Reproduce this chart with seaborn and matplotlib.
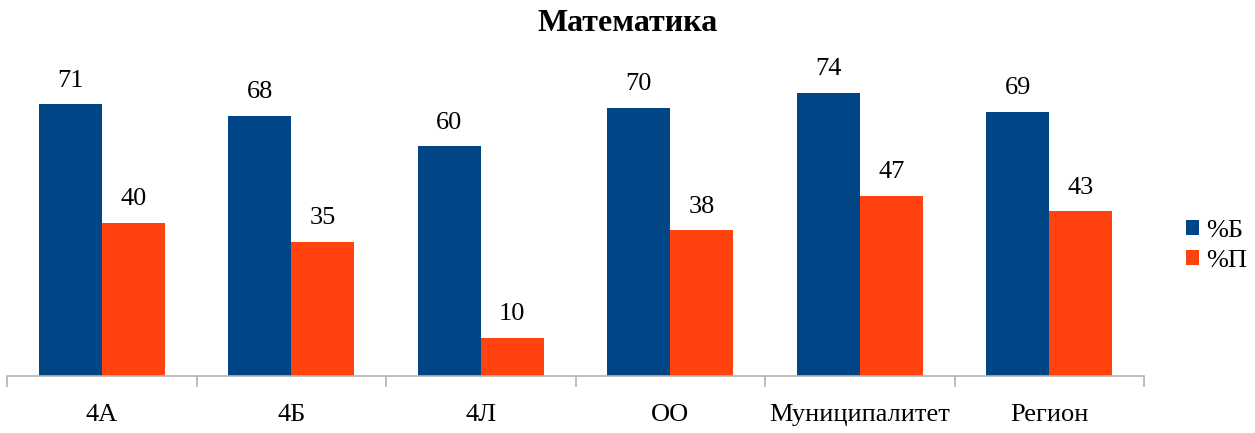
import pandas as pd
import matplotlib
matplotlib.use("Agg")
import matplotlib.pyplot as plt
import seaborn as sns
from matplotlib.ticker import FixedLocator

categories = ["4А", "4Б", "4Л", "ОО", "Муниципалитет", "Регион"]
pct_b = [71, 68, 60, 70, 74, 69]
pct_p = [40, 35, 10, 38, 47, 43]
series = ["%Б", "%П"]
colors = ["#004586", "#FF420E"]

df = pd.DataFrame({
    "cat": categories * 2,
    "series": [series[0]] * len(categories) + [series[1]] * len(categories),
    "value": pct_b + pct_p,
})

sns.set_style("white")
plt.rcParams["font.family"] = ["Liberation Serif", "DejaVu Serif"]
plt.rcParams["text.color"] = "black"
plt.rcParams["xtick.color"] = "black"

fig = plt.figure(figsize=(12.55, 4.33), dpi=100)
ax = fig.add_axes([0.0056, 0.1316, 0.906, 0.752])

sns.barplot(data=df, x="cat", y="value", hue="series", palette=colors,
            width=0.665, gap=0, saturation=1, linewidth=0, ax=ax, legend=True)

for cont in ax.containers:
    ax.bar_label(cont, labels=[f"{v:.0f}" for v in cont.datavalues],
                 padding=9, fontsize=19, color="black")

ax.set_ylim(0, 85)
ax.set_xlim(-0.5, len(categories) - 0.5)
ax.set_yticks([])
ax.set_xlabel("")
ax.set_ylabel("")
for s in ["top", "right", "left"]:
    ax.spines[s].set_visible(False)
ax.spines["bottom"].set_color("#b3b3b3")
ax.spines["bottom"].set_linewidth(1.2)

ax.tick_params(axis="x", which="major", bottom=False, length=0, pad=20,
               labelsize=19, labelcolor="black")
ax.xaxis.set_minor_locator(FixedLocator([i - 0.5 for i in range(len(categories) + 1)]))
ax.tick_params(axis="x", which="minor", bottom=True, length=8,
               color="#b3b3b3", width=1.2)

fig.suptitle("Математика", fontsize=23, fontweight="bold", y=0.98, color="black")

leg = ax.legend(loc="center left", bbox_to_anchor=(0.037, 0.40),
                bbox_transform=ax.transAxes, frameon=False,
                fontsize=19, handlelength=0.47, handleheight=0.47,
                labelspacing=0.3, handletextpad=0.3,
                borderpad=0, borderaxespad=0)
leg.set_bbox_to_anchor((1.037, 0.40), transform=ax.transAxes)

fig.savefig("out.png", dpi=100)
